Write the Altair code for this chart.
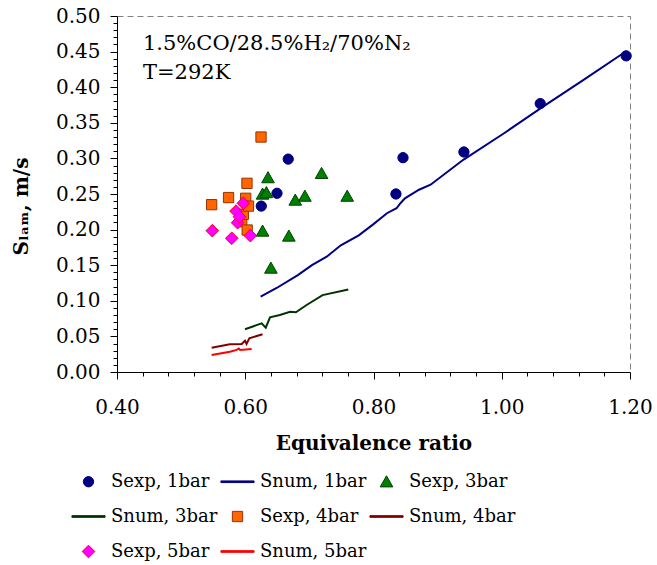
import altair as alt
import pandas as pd

# ---- data ----
series_order = ["Sexp, 1bar", "Snum, 1bar", "Sexp, 3bar", "Snum, 3bar",
                "Sexp, 4bar", "Snum, 4bar", "Sexp, 5bar", "Snum, 5bar"]

exp1_x = [0.625, 0.6495, 0.667, 0.835, 0.846, 0.941, 1.060, 1.194]
exp1_y = [0.233, 0.251, 0.299, 0.250, 0.301, 0.309, 0.377, 0.444]

exp3_x = [0.627, 0.633, 0.6355, 0.627, 0.640, 0.668, 0.678, 0.693, 0.719, 0.759]
exp3_y = [0.250, 0.252, 0.273, 0.198, 0.146, 0.191, 0.2415, 0.247, 0.279, 0.247]

exp4_x = [0.5476, 0.574, 0.5945, 0.597, 0.6007, 0.603, 0.6027, 0.605, 0.6246]
exp4_y = [0.235, 0.245, 0.211, 0.2215, 0.244, 0.1994, 0.265, 0.233, 0.330]

exp5_x = [0.5486, 0.579, 0.5856, 0.588, 0.591, 0.597, 0.608]
exp5_y = [0.1985, 0.1878, 0.226, 0.2097, 0.218, 0.237, 0.1915]

num1_x = [0.624, 0.649, 0.682, 0.704, 0.727, 0.749, 0.777, 0.799, 0.821, 0.836,
          0.842, 0.849, 0.871, 0.889, 0.940, 1.003, 1.065, 1.127, 1.190]
num1_y = [0.106, 0.118, 0.136, 0.150, 0.162, 0.178, 0.192, 0.207, 0.223, 0.230,
          0.237, 0.244, 0.256, 0.263, 0.298, 0.335, 0.373, 0.410, 0.448]

num3_x = [0.5996, 0.6256, 0.632, 0.6386, 0.654, 0.670, 0.679, 0.6957, 0.7206, 0.7607]
num3_y = [0.060, 0.0684, 0.0622, 0.0768, 0.080, 0.0847, 0.0838, 0.0941, 0.108, 0.116]

num4_x = [0.5476, 0.576, 0.5945, 0.5996, 0.602, 0.6063, 0.627]
num4_y = [0.0342, 0.0389, 0.0393, 0.044, 0.0393, 0.0473, 0.053]

num5_x = [0.5476, 0.576, 0.5866, 0.590, 0.592, 0.610]
num5_y = [0.0239, 0.0285, 0.031, 0.033, 0.031, 0.0323]

annot_lines = ["1.5%CO/28.5%H\u2082/70%N\u2082", "T=292K"]
annot_x = [0.4405, 0.4405]
annot_y = [0.4607, 0.420]

x_ticks = [round(0.40 + 0.04 * i, 2) for i in range(21)]
y_ticks = [round(0.01 * i, 2) for i in range(51)]

# ---- styles ----
fill_range = ["#000080", "#000080", "#008000", "#003300",
              "#FF6600", "#800000", "#FF00FF", "#FF0000"]
stroke_range = ["#000080", "#000080", "#004000", "#003300",
                "#993300", "#800000", "#FF0000", "#FF0000"]
# all symbols share one size; the marker size lives in the path itself
LINE = "M-1,-0.05H1V0.05H-1Z"
CIRCLE = "M0.31,0A0.31,0.31,0,1,1,-0.31,0A0.31,0.31,0,1,1,0.31,0Z"
TRIANGLE = "M0,-0.36L0.38,0.31L-0.38,0.31Z"
SQUARE = "M-0.31,-0.31H0.31V0.31H-0.31Z"
DIAMOND = "M0,-0.38L0.38,0L0,0.38L-0.38,0Z"
shape_range = [CIRCLE, LINE, TRIANGLE, LINE, SQUARE, LINE, DIAMOND, LINE]
SYM_SIZE = 1100

FONT = "DejaVu Serif"


def frame(name, xs, ys):
    return pd.DataFrame({"series": name, "phi": xs, "s": ys, "i": range(len(xs))})


points = pd.concat([
    frame("Sexp, 1bar", exp1_x, exp1_y),
    frame("Sexp, 3bar", exp3_x, exp3_y),
    frame("Sexp, 4bar", exp4_x, exp4_y),
    frame("Sexp, 5bar", exp5_x, exp5_y),
], ignore_index=True)

lines = pd.concat([
    frame("Snum, 1bar", num1_x, num1_y),
    frame("Snum, 3bar", num3_x, num3_y),
    frame("Snum, 4bar", num4_x, num4_y),
    frame("Snum, 5bar", num5_x, num5_y),
], ignore_index=True)

annot = pd.DataFrame({"t": annot_lines, "phi": annot_x, "s": annot_y})

legend = alt.Legend(
    title=None, orient="none", legendX=-46, legendY=448, columns=3,
    labelFont=FONT, labelFontSize=18, labelColor="black", labelLimit=400,
    labelOffset=5, columnPadding=0, rowPadding=8, padding=0,
    symbolStrokeWidth=1, symbolSize=SYM_SIZE, direction="horizontal",
)

x_axis = alt.Axis(
    title="Equivalence ratio", values=x_ticks,
    labelExpr="(round(datum.value*100) % 20 == 0) ? format(datum.value, '.2f') : ''",
    tickSize={"condition": {"test": "round(datum.value*100) % 20 == 0", "value": 7}, "value": 4},
    labelPadding=18, labelFont=FONT, labelFontSize=20,
    labelColor="black", titleFont=FONT, titleFontSize=20, titleFontWeight="bold",
    titleColor="black", titlePadding=16, domainColor="black", tickColor="black",
    grid=False, labelFlush=False, labelOverlap=False,
)
y_axis = alt.Axis(
    title="S\u2097\u2090\u2098, m/s", values=y_ticks,
    labelExpr="(round(datum.value*100) % 5 == 0) ? format(datum.value, '.2f') : ''",
    tickSize={"condition": {"test": "round(datum.value*100) % 5 == 0", "value": 7}, "value": 4},
    labelPadding=10, labelFont=FONT, labelFontSize=20,
    labelColor="black", titleFont=FONT, titleFontSize=20, titleFontWeight="bold",
    titleColor="black", titlePadding=24, titleY=190, domainColor="black", tickColor="black",
    grid=False, labelFlush=False, labelOverlap=False,
)

xs = alt.Scale(domain=[0.4, 1.2], nice=False, zero=False)
ys = alt.Scale(domain=[0.0, 0.5], nice=False)

X = alt.X("phi:Q", scale=xs, axis=x_axis)
Y = alt.Y("s:Q", scale=ys, axis=y_axis)

line_layer = alt.Chart(lines).mark_line(strokeWidth=2).encode(
    x=X, y=Y,
    stroke=alt.Stroke("series:N", scale=alt.Scale(domain=series_order, range=stroke_range), legend=legend),
    order="i:Q",
)

point_layer = alt.Chart(points).mark_point(
    filled=True, opacity=1, strokeWidth=1, size=SYM_SIZE
).encode(
    x=X, y=Y,
    fill=alt.Fill("series:N", scale=alt.Scale(domain=series_order, range=fill_range), legend=legend),
    stroke=alt.Stroke("series:N", scale=alt.Scale(domain=series_order, range=stroke_range), legend=legend),
    shape=alt.Shape("series:N", scale=alt.Scale(domain=series_order, range=shape_range), legend=legend),
)

text_layer = alt.Chart(annot).mark_text(
    align="left", baseline="middle", font=FONT, fontSize=21, color="black"
).encode(
    x=X, y=Y,
    text="t:N",
)

chart = alt.layer(line_layer, point_layer, text_layer).properties(
    width=513, height=356,
    autosize=alt.AutoSizeParams(type="none"),
    padding={"left": 117, "top": 16, "right": 27, "bottom": 193},
    background="white",
).configure_view(
    stroke="#808080", strokeDash=[6, 4], strokeWidth=1
).configure_axis(
    labelOverlap=False
)

chart.save("out.html", embed_options={"renderer": "svg", "actions": False})
